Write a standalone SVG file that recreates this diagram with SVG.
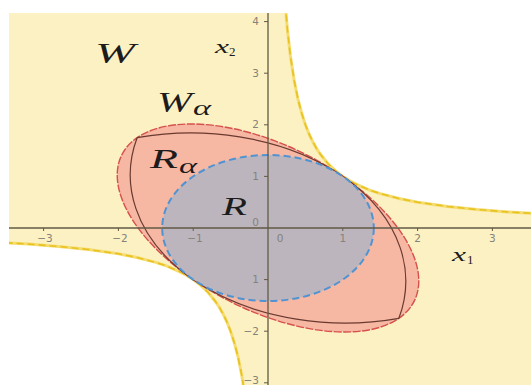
<svg xmlns="http://www.w3.org/2000/svg" width="531" height="385" viewBox="0 0 531 385">
<defs>
<clipPath id="plot"><rect x="9" y="13" width="522" height="372"/></clipPath>
<path id="hyp" d="M285.2,3.7 L287.4,29.5 L290.4,56 L294.2,80.6 L297.9,99 L301.7,113.3 L305.4,124.8 L309.1,134.2 L312.9,142 L316.6,148.6 L320.4,154.3 L327.8,163.5 L335.3,170.7 L342.8,176.4 L350.3,181.1 L357.8,185 L369,189.8 L380.2,193.6 L398.9,198.5 L417.6,202.2 L447.5,206.5 L477.4,209.6 L507.4,211.9 L537.3,213.7"/>
<path id="hypRegion" d="M285.2,3.7 L287.4,29.5 L290.4,56 L294.2,80.6 L297.9,99 L301.7,113.3 L305.4,124.8 L309.1,134.2 L312.9,142 L316.6,148.6 L320.4,154.3 L327.8,163.5 L335.3,170.7 L342.8,176.4 L350.3,181.1 L357.8,185 L369,189.8 L380.2,193.6 L398.9,198.5 L417.6,202.2 L447.5,206.5 L477.4,209.6 L507.4,211.9 L537.3,213.7 L545,213.7 L545,-5 L285.2,-5 Z"/>
</defs>
<style>
.tick{font-family:"DejaVu Sans","Liberation Sans",sans-serif;font-size:10.5px;fill:#858279}
.math{font-family:"Liberation Serif","DejaVu Serif",serif;font-style:italic;fill:#1c1c1c}
.hypBase{fill:none;stroke:#f5dc70;stroke-width:3}
.hypDash{fill:none;stroke:#e8c21e;stroke-width:1.6;stroke-dasharray:7 4}
.tk{stroke:#615a45;stroke-width:1}
</style>
<rect width="531" height="385" fill="#ffffff"/>
<g clip-path="url(#plot)">
  <g id="W">
    <rect x="9" y="13" width="522" height="372" fill="#fcf1c2"/>
    <use href="#hypRegion" fill="#ffffff"/>
    <use href="#hypRegion" fill="#ffffff" transform="rotate(180 268 228)"/>
    <use href="#hyp" class="hypBase"/>
    <use href="#hyp" class="hypBase" transform="rotate(180 268 228)"/>
    <use href="#hyp" class="hypDash"/>
    <use href="#hyp" class="hypDash" transform="rotate(180 268 228)"/>
  </g>
  <g id="R-alpha">
    <path d="M342.8,176.4 C415.1,226.3 440.2,289.8 398.9,318.3 C357.6,346.8 265.5,329.5 193.2,279.6 C120.9,229.7 95.8,166.2 137.1,137.7 C178.4,109.2 270.5,126.5 342.8,176.4 Z" fill="#f6b7a3" stroke="#d6504c" stroke-width="1.4" stroke-dasharray="8 1.5"/>
  </g>
  <g id="W-alpha" fill="none" stroke="#6a3a30" stroke-width="1.2">
    <path d="M137.1,137.7 A214.9,148.2 0 0 1 398.9,318.3"/>
    <path d="M398.9,318.3 A214.9,148.2 0 0 1 137.1,137.7"/>
  </g>
  <g id="R">
    <ellipse cx="268" cy="228" rx="105.8" ry="73" fill="#bcb5bd" stroke="#4f93d3" stroke-width="2" stroke-dasharray="7 4"/>
  </g>
  <g id="axes">
    <line x1="9" y1="228" x2="531" y2="228" stroke="#615a45" stroke-width="1.3"/>
    <line x1="268" y1="13" x2="268" y2="385" stroke="#615a45" stroke-width="1.3"/>
    <path class="tk" d="M43.6,228v3 M118.4,228v3 M193.2,228v3 M342.8,228v3 M417.6,228v3 M492.4,228v3 M264,21.6h4 M264,73.2h4 M264,124.8h4 M264,176.4h4 M264,279.6h4 M264,331.2h4 M264,382.8h4"/>
  </g>
</g>
<g id="tick-labels" class="tick">
  <text x="45" y="242" text-anchor="middle">−3</text>
  <text x="120" y="242" text-anchor="middle">−2</text>
  <text x="195" y="242" text-anchor="middle">−1</text>
  <text x="280" y="242" text-anchor="middle">0</text>
  <text x="342.8" y="242" text-anchor="middle">1</text>
  <text x="417.6" y="242" text-anchor="middle">2</text>
  <text x="492.4" y="242" text-anchor="middle">3</text>
  <text x="259" y="25" text-anchor="end">4</text>
  <text x="259" y="76.5" text-anchor="end">3</text>
  <text x="259" y="128" text-anchor="end">2</text>
  <text x="259" y="179.5" text-anchor="end">1</text>
  <text x="259" y="226" text-anchor="end">0</text>
  <text x="259" y="283" text-anchor="end">1</text>
  <text x="259" y="335" text-anchor="end">−2</text>
  <text x="259" y="384" text-anchor="end">−3</text>
</g>
<g id="labels" class="math">
  <text x="95" y="63" font-size="30" textLength="40" lengthAdjust="spacingAndGlyphs">W</text>
  <text x="157" y="112" font-size="29" textLength="35" lengthAdjust="spacingAndGlyphs">W</text>
  <text x="193" y="115" font-size="20" textLength="18" lengthAdjust="spacingAndGlyphs">α</text>
  <text x="150" y="168" font-size="27" textLength="28" lengthAdjust="spacingAndGlyphs">R</text>
  <text x="179" y="173" font-size="20" textLength="18" lengthAdjust="spacingAndGlyphs">α</text>
  <text x="222" y="215" font-size="26" textLength="25" lengthAdjust="spacingAndGlyphs">R</text>
  <text x="215" y="53" font-size="19" textLength="14" lengthAdjust="spacingAndGlyphs">x</text>
  <text x="229" y="56" font-size="13" font-style="normal">2</text>
  <text x="452" y="261" font-size="19" textLength="14" lengthAdjust="spacingAndGlyphs">x</text>
  <text x="467" y="264" font-size="13" font-style="normal">1</text>
</g>
</svg>
